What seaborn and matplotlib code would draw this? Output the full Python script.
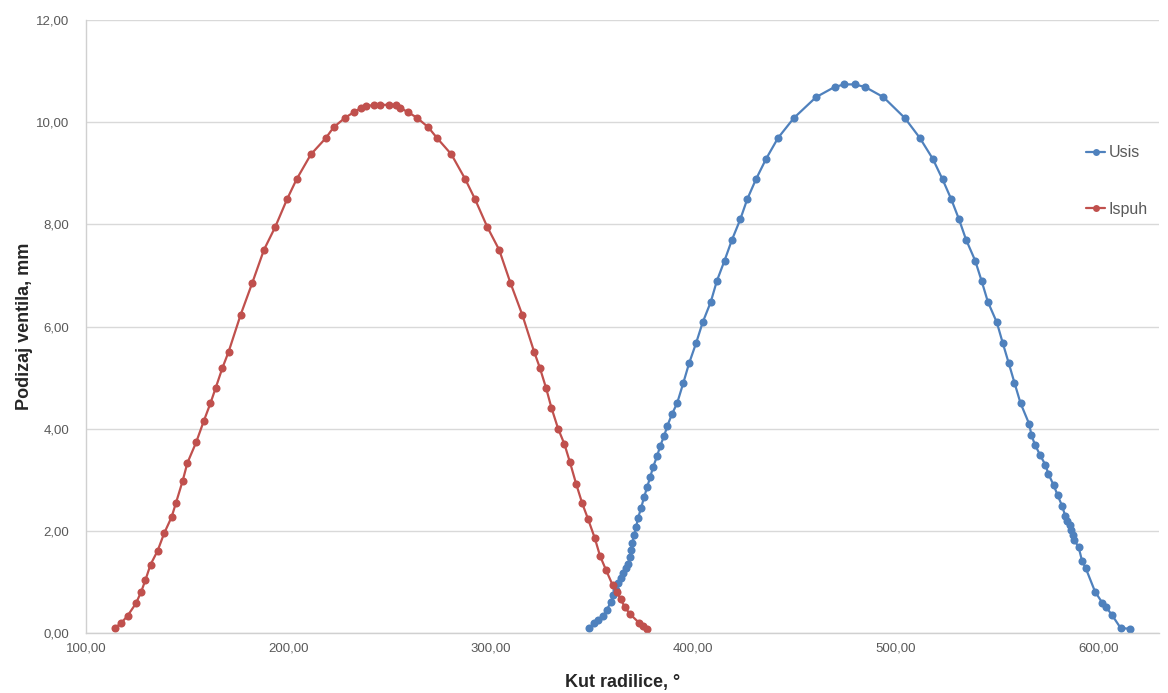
import matplotlib
matplotlib.use("Agg")
from matplotlib import pyplot as plt
from matplotlib.ticker import FuncFormatter
import pandas as pd
import seaborn as sns

# Usis (intake) valve lift
usis_kut = [
    348.5, 351.0, 353.1, 355.6, 357.3, 359.2, 360.5, 361.7, 363.0, 364.2,
    365.5, 366.7, 367.9, 368.5, 369.3, 369.8, 370.8, 371.7, 372.7, 374.2,
    375.7, 377.2, 378.7, 380.1, 382.1, 383.6, 385.6, 387.1, 389.5, 392.0,
    395.0, 397.9, 401.4, 404.6, 408.6, 411.6, 415.4, 419.1, 423.2, 426.6,
    430.9, 435.9, 441.8, 449.6, 460.6, 469.8, 474.6, 479.6, 484.8, 493.9,
    504.5, 511.9, 518.3, 523.1, 527.4, 531.2, 534.7, 539.2, 542.4, 545.5,
    549.9, 552.8, 555.8, 558.6, 561.6, 565.9, 567.0, 568.7, 571.3, 573.9,
    575.4, 577.9, 579.9, 582.2, 583.7, 584.8, 585.8, 586.7, 587.5, 588.0,
    590.3, 592.0, 593.7, 598.4, 602.0, 604.0, 606.8, 611.0, 615.8,
]
usis_podizaj = [
    0.09, 0.19, 0.25, 0.34, 0.45, 0.61, 0.74, 0.84, 0.97, 1.07,
    1.17, 1.27, 1.36, 1.49, 1.62, 1.76, 1.92, 2.07, 2.25, 2.45,
    2.66, 2.86, 3.05, 3.25, 3.46, 3.66, 3.86, 4.05, 4.29, 4.50,
    4.89, 5.28, 5.68, 6.08, 6.48, 6.89, 7.29, 7.70, 8.10, 8.49,
    8.88, 9.28, 9.69, 10.08, 10.49, 10.69, 10.74, 10.74, 10.69, 10.49,
    10.08, 9.69, 9.28, 8.88, 8.49, 8.10, 7.70, 7.29, 6.89, 6.48,
    6.08, 5.68, 5.28, 4.90, 4.50, 4.09, 3.87, 3.69, 3.48, 3.29,
    3.11, 2.90, 2.70, 2.48, 2.29, 2.19, 2.11, 2.02, 1.92, 1.83,
    1.68, 1.41, 1.28, 0.81, 0.59, 0.50, 0.35, 0.10, 0.08,
]

# Ispuh (exhaust) valve lift
ispuh_kut = [
    114.3, 117.3, 120.6, 124.7, 127.3, 129.4, 131.9, 135.4, 138.6, 142.3,
    144.4, 147.7, 150.1, 154.4, 158.2, 161.5, 164.0, 167.4, 170.5, 176.4,
    182.2, 187.9, 193.5, 199.3, 204.0, 211.1, 218.5, 222.3, 228.1, 232.5,
    235.9, 238.1, 242.4, 245.0, 249.6, 252.9, 255.2, 258.9, 263.4, 269.1,
    273.4, 280.5, 287.4, 292.2, 298.2, 304.1, 309.6, 315.5, 321.4, 324.2,
    327.3, 329.9, 333.2, 336.3, 339.0, 342.1, 345.1, 348.0, 351.3, 353.9,
    356.9, 360.1, 362.2, 364.1, 366.1, 368.7, 373.2, 375.1, 377.0,
]
ispuh_podizaj = [
    0.10, 0.19, 0.34, 0.58, 0.81, 1.04, 1.34, 1.61, 1.95, 2.27,
    2.54, 2.97, 3.33, 3.73, 4.15, 4.50, 4.79, 5.19, 5.51, 6.23,
    6.86, 7.50, 7.95, 8.49, 8.88, 9.37, 9.69, 9.90, 10.09, 10.20,
    10.28, 10.31, 10.34, 10.34, 10.34, 10.33, 10.28, 10.20, 10.09, 9.90,
    9.69, 9.37, 8.88, 8.49, 7.95, 7.50, 6.86, 6.23, 5.50, 5.19,
    4.79, 4.41, 4.00, 3.70, 3.35, 2.92, 2.54, 2.23, 1.86, 1.51,
    1.23, 0.94, 0.81, 0.66, 0.51, 0.37, 0.20, 0.14, 0.08,
]

x_ticks = [100, 200, 300, 400, 500, 600]
y_ticks = [0, 2, 4, 6, 8, 10, 12]

df = pd.concat(
    [
        pd.DataFrame({"kut": usis_kut, "podizaj": usis_podizaj, "ventil": "Usis"}),
        pd.DataFrame({"kut": ispuh_kut, "podizaj": ispuh_podizaj, "ventil": "Ispuh"}),
    ],
    ignore_index=True,
)

sns.set_style("white")
plt.rcParams["font.family"] = ["Liberation Sans Narrow", "Liberation Sans", "DejaVu Sans"]

fig = plt.figure(figsize=(11.68, 6.93), dpi=100)
ax = fig.add_axes([0.0736, 0.0866, 0.9187, 0.8845])

sns.lineplot(
    data=df,
    x="kut",
    y="podizaj",
    hue="ventil",
    hue_order=["Usis", "Ispuh"],
    palette={"Usis": "#4F81BD", "Ispuh": "#C0504D"},
    marker="o",
    markersize=5.8,
    markeredgewidth=0,
    linewidth=1.6,
    estimator=None,
    sort=False,
    ax=ax,
)

ax.set_xlim(100, 630)
ax.set_ylim(0, 12)
ax.set_xticks(x_ticks)
ax.set_yticks(y_ticks)
comma = FuncFormatter(lambda v, _: f"{v:.2f}".replace(".", ","))
ax.xaxis.set_major_formatter(comma)
ax.yaxis.set_major_formatter(comma)
ax.tick_params(length=0, labelsize=9.5, labelcolor="#595959")
ax.tick_params(axis="y", pad=12)
ax.tick_params(axis="x", pad=7)

ax.grid(axis="y", color="#D9D9D9", linewidth=1)
ax.set_axisbelow(True)
for side in ["top", "right"]:
    ax.spines[side].set_visible(False)
for side in ["left", "bottom"]:
    ax.spines[side].set_color("#D0D0D0")
    ax.spines[side].set_linewidth(1)

ax.set_xlabel("Kut radilice, °", fontsize=13, fontweight="bold", labelpad=14)
ax.set_ylabel("Podizaj ventila, mm", fontsize=13, fontweight="bold", labelpad=2)

leg = ax.legend(
    loc="upper left",
    bbox_to_anchor=(0.926, 0.806),
    frameon=False,
    fontsize=11.5,
    handlelength=1.2,
    handletextpad=0.2,
    labelspacing=2.6,
    borderaxespad=0,
    labelcolor="#595959",
)
for line in leg.get_lines():
    line.set_markersize(5)

fig.savefig("out.png", dpi=100, facecolor="white")
